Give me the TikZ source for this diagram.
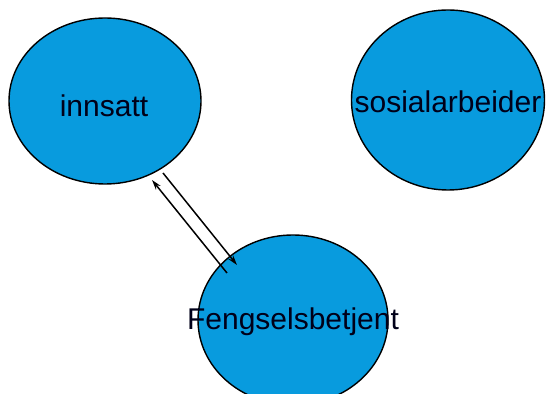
\documentclass[tikz,border=0pt]{standalone}
\usepackage{fontspec}
\setmainfont{Liberation Sans}
\usetikzlibrary{shapes.geometric,arrows.meta,calc}
\definecolor{bubble}{RGB}{8,155,222}
\begin{document}
\begin{tikzpicture}[x=0.5pt,y=-0.5pt,
  bub/.style={ellipse,draw=black,line width=0.7pt,fill=bubble,inner sep=0pt},
  lbl/.style={anchor=base,inner sep=0pt,font=\fontsize{15pt}{18pt}\selectfont,text=black!90!blue},
  conn/.style={line width=0.75pt,-{Stealth[length=5pt,width=3pt]}}]
\clip (0,0) rectangle (546,394);
\fill[white] (0,0) rectangle (546,394);
\node[bub,minimum width=96pt,minimum height=83pt] (inn) at (105,101) {};
\node[bub,minimum width=96.5pt,minimum height=90pt] (sos) at (448,100) {};
\node[bub,minimum width=95pt,minimum height=85pt] (fen) at (293,320) {};
\node[lbl] (innT) at ($(inn.center)+(-1,16)$) {innsatt};
\node[lbl] (sosT) at ($(sos.center)+(0,13)$) {sosialarbeider};
\node[lbl] (fenT) at ($(fen.center)+(0,10)$) {Fengselsbetjent};
\draw[conn] ($(fen.center)+(-66,-47)$) -- ($(inn.center)+(47,79)$);
\draw[conn] ($(inn.center)+(58,72)$) -- ($(fen.center)+(-56,-55)$);
\end{tikzpicture}
\end{document}
